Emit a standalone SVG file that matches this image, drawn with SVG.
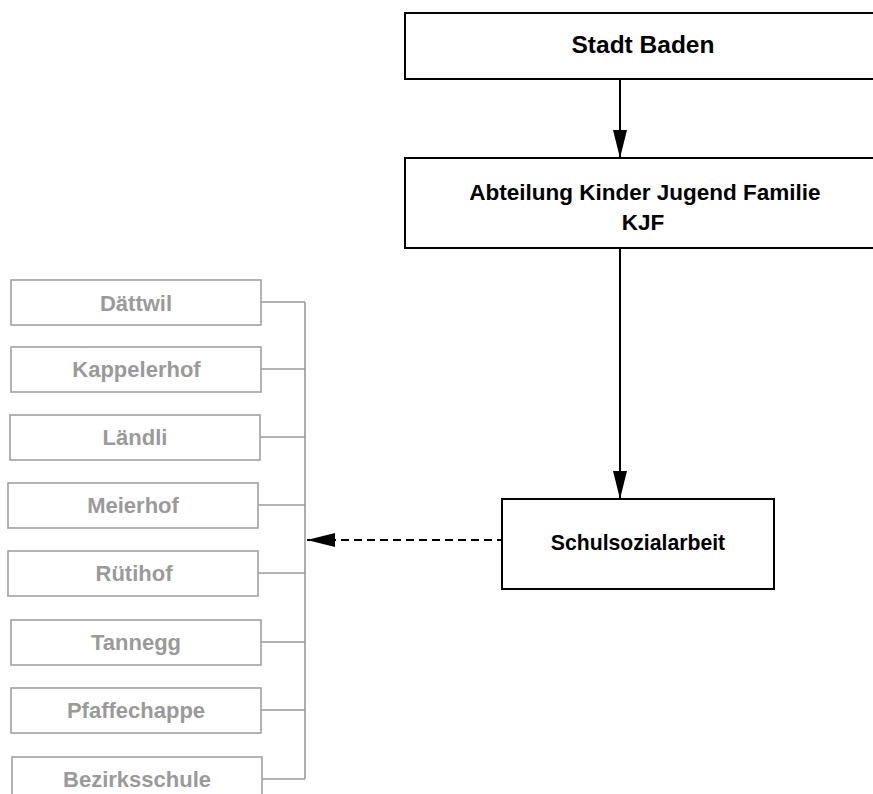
<svg xmlns="http://www.w3.org/2000/svg" width="873" height="794" viewBox="0 0 873 794">
<style>
.main rect{fill:#fff;stroke:#000;stroke-width:2}
.main text{font-family:"Liberation Sans",Arial,sans-serif;font-weight:bold;font-size:22.5px;fill:#000;text-anchor:middle}
.school rect{fill:#fff;stroke:#a0a0a0;stroke-width:1.6}
.school text{font-family:"Liberation Sans",Arial,sans-serif;font-weight:bold;font-size:22px;fill:#9a9a9a;text-anchor:middle}
.gl{stroke:#9a9a9a;stroke-width:1.6;fill:none}
.bl{stroke:#000;stroke-width:2;fill:none}
</style>
<defs>
<marker id="ah" viewBox="0 0 28 14" refX="28" refY="7" markerWidth="28" markerHeight="14" markerUnits="userSpaceOnUse" orient="auto">
<path d="M0,0 L28,7 L0,14 Z" fill="#000"/>
</marker>
</defs>
<rect width="873" height="794" fill="#fff"/>
<g id="connectors">
<line class="bl" x1="620" y1="79" x2="620" y2="158" marker-end="url(#ah)"/>
<line class="bl" x1="620" y1="248" x2="620" y2="499" marker-end="url(#ah)"/>
<line class="bl" x1="505" y1="540" x2="307" y2="540" stroke-dasharray="8,5" marker-end="url(#ah)"/>
<line class="gl" x1="305" y1="302" x2="305" y2="779"/>
<line class="gl" x1="261" y1="302" x2="305" y2="302"/>
<line class="gl" x1="261" y1="369" x2="305" y2="369"/>
<line class="gl" x1="260" y1="437" x2="305" y2="437"/>
<line class="gl" x1="258" y1="505" x2="305" y2="505"/>
<line class="gl" x1="258" y1="573" x2="305" y2="573"/>
<line class="gl" x1="261" y1="642" x2="305" y2="642"/>
<line class="gl" x1="261" y1="710" x2="305" y2="710"/>
<line class="gl" x1="262" y1="779" x2="305" y2="779"/>
</g>
<g id="stadt-baden" class="main">
<rect x="405" y="13" width="476" height="66"/>
<text x="643" y="53" style="font-size:24.5px">Stadt Baden</text>
</g>
<g id="kjf" class="main">
<rect x="405" y="158" width="476" height="90"/>
<text x="645" y="199.5">Abteilung Kinder Jugend Familie</text>
<text x="643" y="230">KJF</text>
</g>
<g id="schulsozialarbeit" class="main">
<rect x="502" y="499" width="272" height="90"/>
<text x="638" y="550" style="font-size:21.2px">Schulsozialarbeit</text>
</g>
<g id="daettwil" class="school">
<rect x="11" y="280" width="250" height="45"/>
<text x="136" y="311">Dättwil</text>
</g>
<g id="kappelerhof" class="school">
<rect x="11" y="347" width="250" height="45"/>
<text x="136.5" y="377">Kappelerhof</text>
</g>
<g id="laendli" class="school">
<rect x="10" y="415" width="250" height="45"/>
<text x="135" y="445">Ländli</text>
</g>
<g id="meierhof" class="school">
<rect x="8" y="483" width="250" height="45"/>
<text x="133" y="513">Meierhof</text>
</g>
<g id="ruetihof" class="school">
<rect x="8" y="551" width="250" height="45"/>
<text x="134" y="581">Rütihof</text>
</g>
<g id="tannegg" class="school">
<rect x="11" y="620" width="250" height="45"/>
<text x="136" y="650">Tannegg</text>
</g>
<g id="pfaffechappe" class="school">
<rect x="11" y="688" width="250" height="45"/>
<text x="136" y="718">Pfaffechappe</text>
</g>
<g id="bezirksschule" class="school">
<rect x="12" y="757" width="250" height="45"/>
<text x="137" y="787">Bezirksschule</text>
</g>
</svg>
